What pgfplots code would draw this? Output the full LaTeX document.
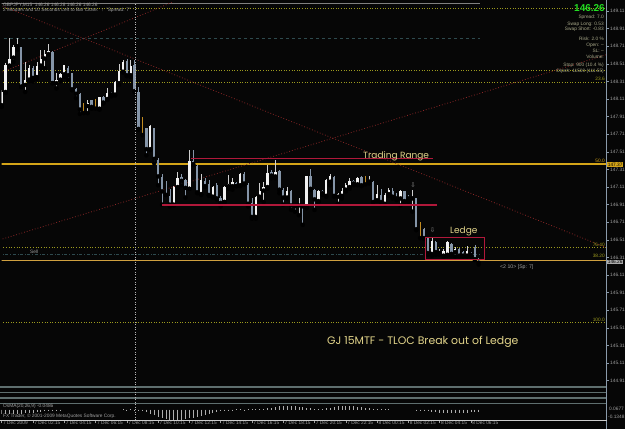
\documentclass[border=0pt]{standalone}
\usepackage{pgfplots}
\pgfplotsset{compat=1.18}
\usepackage{pgfplotstable}
\usepackage{fontspec}
\setmainfont{Liberation Sans}
\newfontfamily\annot{Poppins}
\newfontfamily\symf{DejaVu Sans}
\definecolor{bg}{HTML}{060606}
\definecolor{bull}{HTML}{F2F2F2}
\definecolor{bullwick}{HTML}{CFCFCF}
\definecolor{bear}{HTML}{8595A8}
\definecolor{doji}{HTML}{C08A20}
\definecolor{gold}{HTML}{D4A418}
\definecolor{olive}{HTML}{9C9A1E}
\definecolor{crimson}{HTML}{B0183A}
\definecolor{trend}{HTML}{8A2626}
\definecolor{darkteal}{HTML}{2E4A4E}
\definecolor{axisgray}{HTML}{8A9AAA}
\definecolor{txtgray}{HTML}{A0A0A0}
\definecolor{panel}{HTML}{A9A98A}
\definecolor{khaki}{HTML}{E2D48A}
\definecolor{sep}{HTML}{5E6E6E}
\definecolor{pricegreen}{HTML}{22DD22}
\definecolor{bidline}{HTML}{D0A040}

\pgfplotstableread{
i o h l c
0 148.04 148.21 148.02 148.19
1 148.19 148.52 148.18 148.50
2 148.49 148.80 148.48 148.57
3 148.58 148.72 148.53 148.70
4 148.71 148.80 148.67 148.72
5 148.70 148.70 148.25 148.25
6 148.27 148.53 148.19 148.33
7 148.33 148.50 148.31 148.46
8 148.46 148.48 148.31 148.35
9 148.36 148.53 148.34 148.49
10 148.49 148.67 148.46 148.57
11 148.57 148.67 148.46 148.62
12 148.62 148.73 148.61 148.66
13 148.64 148.65 148.29 148.29
14 148.29 148.40 148.23 148.33
15 148.33 148.41 148.31 148.39
16 148.39 148.50 148.36 148.50
17 148.46 148.48 148.33 148.38
18 148.40 148.41 148.21 148.22
19 148.22 148.23 148.12 148.17
20 148.17 148.18 147.94 147.99
21 148.05 148.06 147.95 148.05
22 148.03 148.10 147.95 148.06
23 148.10 148.10 148.00 148.02
24 148.05 148.11 148.00 148.05
25 148.00 148.13 147.99 148.13
26 148.13 148.14 148.06 148.07
27 148.11 148.24 148.10 148.18
28 148.17 148.19 148.14 148.16
29 148.16 148.31 148.15 148.30
30 148.29 148.51 148.27 148.43
31 148.42 148.55 148.41 148.53
32 148.54 148.57 148.37 148.38
33 148.38 148.55 148.36 148.48
34 148.50 148.55 148.19 148.20
35 148.19 148.25 147.76 147.77
36 147.80 147.91 147.70 147.80
37 147.78 147.78 147.47 147.54
38 147.54 147.81 147.53 147.80
39 147.78 147.78 147.38 147.43
40 147.42 147.44 147.13 147.23
41 147.22 147.26 146.91 147.06
42 147.04 147.18 147.02 147.02
43 147.01 147.09 146.89 146.91
44 146.91 147.12 146.90 147.11
45 147.11 147.28 147.10 147.21
46 147.22 147.26 147.13 147.18
47 147.19 147.20 146.99 147.10
48 147.09 147.53 147.09 147.40
49 147.40 147.53 147.36 147.37
50 147.35 147.36 147.04 147.05
51 147.03 147.26 147.02 147.19
52 147.18 147.21 147.11 147.12
53 147.14 147.19 147.01 147.02
54 147.00 147.12 146.99 147.11
55 147.13 147.15 146.97 146.98
56 146.99 147.01 146.89 146.93
57 146.94 147.12 146.94 147.11
58 147.12 147.25 147.09 147.14
59 147.12 147.21 147.08 147.17
60 147.16 147.17 147.12 147.12
61 147.13 147.27 147.12 147.26
62 147.26 147.28 147.14 147.15
63 147.13 147.15 146.89 146.92
64 146.93 146.98 146.75 146.77
65 146.77 147.01 146.75 147.00
66 147.00 147.15 146.96 147.07
67 147.07 147.17 146.94 147.11
68 147.11 147.36 147.09 147.27
69 147.28 147.30 147.21 147.24
70 147.23 147.42 147.21 147.28
71 147.29 147.30 147.04 147.08
72 147.08 147.10 146.91 146.99
73 146.99 147.11 146.98 147.07
74 147.06 147.08 146.85 146.90
75 146.90 146.92 146.83 146.89
76 146.90 146.98 146.79 146.92
77 146.92 146.92 146.68 146.89
78 146.89 147.24 146.87 147.23
79 147.23 147.31 147.08 147.09
80 147.08 147.09 146.85 146.97
81 146.95 147.08 146.94 147.07
82 147.06 147.08 147.02 147.04
83 147.01 147.20 147.00 147.19
84 147.17 147.26 147.13 147.23
85 147.22 147.23 147.00 147.01
86 147.00 147.04 146.92 147.03
87 147.01 147.10 146.98 147.06
88 147.08 147.15 147.06 147.13
89 147.11 147.21 147.09 147.18
90 147.18 147.19 147.13 147.15
91 147.14 147.22 147.13 147.21
92 147.22 147.23 147.12 147.13
93 147.19 147.23 147.14 147.19
94 147.17 147.23 147.15 147.19
95 147.17 147.18 146.93 146.94
96 146.96 147.13 146.95 147.03
97 147.02 147.09 146.92 146.94
98 146.92 147.04 146.91 147.02
99 147.03 147.10 147.01 147.08
100 147.06 147.10 146.98 147.00
101 146.99 147.04 146.96 146.98
102 146.98 147.08 146.90 147.06
103 147.06 147.07 146.94 146.95
104 147.00 147.02 146.94 146.98
105 146.98 147.08 146.83 146.99
106 146.98 146.99 146.62 146.63
107 146.62 146.71 146.53 146.62
108 146.63 146.64 146.52 146.53
109 146.53 146.54 146.34 146.36
110 146.35 146.53 146.33 146.50
111 146.48 146.50 146.34 146.37
112 146.36 146.41 146.34 146.37
113 146.33 146.40 146.32 146.38
114 146.34 146.50 146.33 146.49
115 146.46 146.47 146.33 146.35
116 146.37 146.43 146.32 146.41
117 146.41 146.42 146.32 146.33
118 146.37 146.38 146.32 146.33
119 146.33 146.44 146.32 146.38
120 146.35 146.37 146.32 146.34
121 146.43 146.45 146.28 146.29
122 146.29 146.30 146.23 146.25
}\candles

\pgfplotstableread{
i v
0 -0.060
1 -0.060
2 -0.058
3 -0.055
4 -0.052
5 -0.050
6 -0.046
7 -0.042
8 -0.038
9 -0.032
10 -0.026
11 -0.020
12 -0.015
13 -0.010
14 -0.006
15 -0.003
31 0.003
32 -0.003
33 0.002
34 -0.003
35 -0.004
36 -0.015
37 -0.030
38 -0.050
39 -0.070
40 -0.090
41 -0.105
42 -0.118
43 -0.128
44 -0.132
45 -0.130
46 -0.125
47 -0.118
48 -0.110
49 -0.100
50 -0.090
51 -0.078
52 -0.066
53 -0.054
54 -0.042
55 -0.030
56 -0.020
57 -0.012
58 -0.006
59 -0.003
60 0.002
61 0.003
62 -0.002
63 0.003
64 0.002
65 0.004
66 0.005
67 0.008
68 0.015
69 0.025
70 0.035
71 0.042
72 0.046
73 0.048
74 0.045
75 0.040
76 0.034
77 0.028
78 0.022
79 0.016
80 0.012
81 0.010
82 0.012
83 0.018
84 0.026
85 0.034
86 0.040
87 0.044
88 0.046
89 0.045
90 0.040
91 0.034
92 0.028
93 0.022
94 0.016
95 0.012
96 0.008
97 0.005
98 0.003
99 0.002
106 -0.003
107 -0.008
108 -0.015
109 -0.022
110 -0.030
111 -0.036
112 -0.040
113 -0.043
114 -0.045
115 -0.046
116 -0.046
117 -0.045
118 -0.043
119 -0.040
120 -0.036
121 -0.032
122 -0.030
}\osma

\newcommand{\mt}{\fontsize{4.8}{5.2}\selectfont}
\pgfplotsset{mainwin/.style={
  at={(1.5pt,-386.5pt)}, anchor=south west, scale only axis,
  width=605pt, height=384.5pt,
  xmin=-0.05, xmax=154.68, ymin=144.843, ymax=149.212,
  axis line style={draw=none}, clip=true}}

\begin{document}
\begin{tikzpicture}
\useasboundingbox (0pt,0pt) rectangle (625pt,-429pt);
\fill[bg] (0pt,0pt) rectangle (625pt,-429pt);

% ---------------- main price window ----------------
\begin{axis}[mainwin,
  xtick=\empty,
  ytick={144.91,145.11,145.31,145.51,145.71,145.91,146.11,146.31,146.51,146.71,146.91,147.11,147.31,147.51,147.71,147.91,148.11,148.31,148.51,148.71,148.91,149.11},
  yticklabels={144.91,145.11,145.31,145.51,145.71,145.91,146.11,146.31,146.51,146.71,146.91,147.11,147.31,147.51,147.71,147.91,148.11,148.31,148.51,148.71,148.91,149.11},
  ytick pos=right, yticklabel pos=right,
  tick align=outside, major tick length=2.5pt,
  tick style={axisgray, line width=0.5pt},
  yticklabel style={font=\mt, text=txtgray, inner sep=1pt},
]
% horizontal levels
\addplot[color=olive, dotted, line width=0.6pt] coordinates {(-1,149.144) (160,149.144)};
\addplot[color=olive, dotted, line width=0.6pt] coordinates {(-1,148.440) (160,148.440)};
\addplot[color=olive, dotted, line width=0.6pt] coordinates {(-1,148.303) (160,148.303)};
\addplot[color=olive, dotted, line width=0.7pt] coordinates {(-1,146.420) (160,146.420)};
\addplot[color=olive, dotted, line width=0.6pt] coordinates {(-1,145.576) (160,145.576)};
\addplot[color=darkteal, dashed, line width=0.6pt] coordinates {(-1,148.803) (122.3,148.803)};
\addplot[color=darkteal, dash dot, line width=0.6pt] coordinates {(-1,146.349) (122.3,146.349)};
\addplot[color=gray, line width=0.9pt] coordinates {(-1,149.19) (122.3,149.19)};
\addplot[color=gold, line width=1.5pt] coordinates {(-1,147.371) (160,147.371)};
\addplot[color=bidline, line width=1pt] coordinates {(-1,146.280) (160,146.280)};
% trend lines
\addplot[color=trend, dotted, line width=0.8pt] coordinates {(-0.43,149.178) (154.68,146.421)};
\addplot[color=trend, dotted, line width=0.8pt] coordinates {(-0.43,148.405) (45.09,149.235)};
\addplot[color=trend, dotted, line width=0.8pt] coordinates {(-0.43,146.511) (154.68,148.613)};
% candles: wicks
\addplot[only marks, mark=none, forget plot,
  restrict expr to domain={\thisrow{c}-\thisrow{o}}{0.00001:10},
  error bars/.cd, y dir=plus, y explicit, error mark=none,
  error bar style={line width=0.6pt, color=bullwick}]
  table[x=i, y=l, y error expr=\thisrow{h}-\thisrow{l}] {\candles};
\addplot[only marks, mark=none, forget plot,
  restrict expr to domain={\thisrow{c}-\thisrow{o}}{-10:-0.00001},
  error bars/.cd, y dir=plus, y explicit, error mark=none,
  error bar style={line width=0.6pt, color=bear}]
  table[x=i, y=l, y error expr=\thisrow{h}-\thisrow{l}] {\candles};
\addplot[only marks, mark=none, forget plot,
  restrict expr to domain={\thisrow{c}-\thisrow{o}}{-0.000005:0.000005},
  error bars/.cd, y dir=plus, y explicit, error mark=none,
  error bar style={line width=0.8pt, color=doji}]
  table[x=i, y=l, y error expr=\thisrow{h}-\thisrow{l}] {\candles};
% candles: bodies
\addplot[only marks, mark=none, forget plot,
  restrict expr to domain={\thisrow{c}-\thisrow{o}}{0.00001:10},
  error bars/.cd, y dir=plus, y explicit, error mark=none,
  error bar style={line width=2.4pt, color=bull}]
  table[x=i, y expr={min(\thisrow{o},\thisrow{c})}, y error expr={max(abs(\thisrow{c}-\thisrow{o}),0.012)}] {\candles};
\addplot[only marks, mark=none, forget plot,
  restrict expr to domain={\thisrow{c}-\thisrow{o}}{-10:-0.00001},
  error bars/.cd, y dir=plus, y explicit, error mark=none,
  error bar style={line width=2.4pt, color=bear}]
  table[x=i, y expr={min(\thisrow{o},\thisrow{c})}, y error expr={max(abs(\thisrow{c}-\thisrow{o}),0.012)}] {\candles};
\end{axis}

% overlay: trading range and ledge drawn on top of the candles
\begin{axis}[mainwin, xtick=\empty, ytick=\empty]
\addplot[draw=crimson, line width=1.6pt] coordinates {(48.29,147.436) (110.4,147.436)};
\addplot[draw=crimson, line width=2pt] coordinates {(41.0,146.905) (111.3,146.905)};
\addplot[draw=crimson, line width=0.8pt] coordinates {(108.4,146.542) (123.5,146.542) (123.5,146.292) (108.4,146.292) (108.4,146.542)};
\end{axis}

% ---------------- OsMA window ----------------
\begin{axis}[
  at={(1.5pt,-420.3pt)}, anchor=south west, scale only axis,
  width=605pt, height=16pt,
  xmin=-0.05, xmax=154.68, ymin=-0.1348, ymax=0.0677,
  axis line style={draw=none},
  ytick=\empty,
  xtick={0,8,16,24,32,40,48,56,64,72,80,88,96,104,112,120},
  xticklabels={7 Dec 2009,7 Dec 02:15,7 Dec 04:15,7 Dec 06:15,7 Dec 08:15,7 Dec 10:15,7 Dec 12:15,7 Dec 14:15,7 Dec 16:15,7 Dec 18:15,7 Dec 20:15,7 Dec 22:15,8 Dec 00:15,8 Dec 02:15,8 Dec 04:15,8 Dec 06:15},
  xtick pos=bottom, tick align=outside, major tick length=3pt,
  tick style={txtgray, line width=0.5pt},
  xticklabel style={anchor=north west, font=\mt, text=txtgray, inner sep=0.5pt, yshift=3.2pt, xshift=0.8pt},
  clip=true,
]
\addplot[ycomb, mark=none, color=txtgray!85!white, line width=0.7pt] table[x=i, y=v] {\osma};
\end{axis}

\begin{scope}[x=1pt, y=-1pt]
\foreach \yy in {387,392.7,398,403.3} \draw[sep, line width=1.2pt] (0,\yy) -- (606.5,\yy);
\draw[axisgray, line width=0.7pt] (606.5,0) -- (606.5,429);
\draw[gray!55, dotted, line width=0.5pt] (135,4) -- (135,420);
\draw[gray!40, line width=0.4pt] (0,420.3) -- (606.5,420.3);
\node[anchor=west, font=\mt, text=txtgray, inner sep=0pt] at (3,4.8) {GBPJPY,M15\ \ 146.26 146.28 146.26 146.26};
\node[anchor=west, font=\mt, text=txtgray, inner sep=0pt] at (3,10) {2 Minutes and 10 Seconds Left to Bar Close.\ \ ↑\ \ "Spread: 7"};
\node[anchor=east, font=\fontsize{10}{11}\selectfont\bfseries, text=pricegreen, inner sep=0pt] at (605,7.8) {146.26};
\node[anchor=east, font=\mt, text=panel, inner sep=0pt] at (604,17.3) {Spread: 7.0};
\node[anchor=east, font=\mt, text=panel, inner sep=0pt] at (604,24) {Swap Long: 0.53};
\node[anchor=east, font=\mt, text=panel, inner sep=0pt] at (604,29.7) {Swap Short: -0.83};
\node[anchor=east, font=\mt, text=panel, inner sep=0pt] at (604,39) {Risk: 2.0 \%};
\node[anchor=east, font=\mt, text=panel, inner sep=0pt] at (604,45) {Open: --};
\node[anchor=east, font=\mt, text=panel, inner sep=0pt] at (604,51) {SL: --};
\node[anchor=east, font=\mt, text=panel, inner sep=0pt] at (604,56.7) {Volume:};
\node[anchor=east, font=\mt, text=panel, inner sep=0pt] at (604,65.7) {Stop: 900 (10.4 \%)};
\node[anchor=east, font=\mt, text=panel, inner sep=0pt] at (604,71) {Orpsh: 11500 (111.55)};
\node[anchor=east, font=\mt, text=olive, inner sep=0pt] at (605,78.7) {23.6};
\node[anchor=east, font=\mt, text=gold, inner sep=0pt] at (605,161.3) {50.0};
\node[anchor=east, font=\mt, text=olive, inner sep=0pt] at (605,245) {76.40};
\node[anchor=east, font=\mt, text=olive, inner sep=0pt] at (605,256) {38.20};
\node[anchor=east, font=\mt, text=olive, inner sep=0pt] at (605,319.5) {100.0};
\node[anchor=west, font=\mt, text=txtgray, inner sep=0pt] at (30,252) {Sell};
\node[anchor=west, fill=gold, text=black, font=\mt, inner sep=0.7pt] at (607,164.5) {147.37};
\node[anchor=west, fill=gray!65, text=black, font=\mt, inner sep=0.7pt] at (607,262) {146.26};
\node[anchor=west, font=\mt, text=txtgray, inner sep=0pt] at (609,408.5) {0.0677};
\node[anchor=west, font=\mt, text=txtgray, inner sep=0pt] at (608,417) {-0.1348};
\node[anchor=west, font=\annot\fontsize{9}{10}\selectfont, text=khaki, inner sep=0pt] at (363,156.5) {Trading Range};
\node[anchor=west, font=\annot\fontsize{9}{10}\selectfont, text=khaki, inner sep=0pt] at (450,231.5) {Ledge};
\node[anchor=west, font=\annot\fontsize{10.9}{12}\selectfont, text=khaki, inner sep=0pt] at (327,341.5) {GJ 15MTF - TLOC Break out of Ledge};
\node[anchor=west, font=\fontsize{5.2}{6}\selectfont, text=txtgray, inner sep=0pt] at (500,267.5) {<2 10> [Sp: 7]};
\node[font=\symf\fontsize{6.5}{7}\selectfont, text=gray!90, inner sep=0pt] at (413,185.5) {⇩};
\node[font=\symf\fontsize{6.5}{7}\selectfont, text=gray!90, inner sep=0pt] at (432.5,230.5) {⇩};
\node[anchor=west, font=\mt, text=txtgray, inner sep=0pt] at (3,406.5) {OsMA(20,26,9) -0.0486};
\node[anchor=west, font=\mt, text=txtgray, inner sep=0pt] at (3,416.7) {FX Trader, © 2001-2009 MetaQuotes Software Corp.};
\end{scope}
\end{tikzpicture}
\end{document}
